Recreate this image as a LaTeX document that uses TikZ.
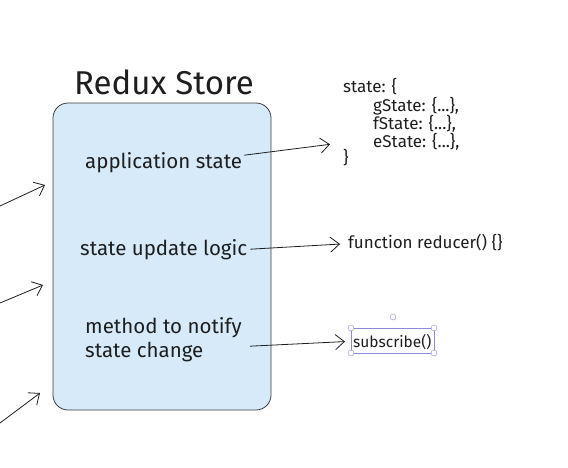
\documentclass[tikz,border=0pt]{standalone}
\usepackage{fontspec}
\setmainfont{Fira Sans}
\usepackage{tikz}
\usetikzlibrary{
  arrows.meta,
  positioning
}
\definecolor{ink}{HTML}{1E1E1E}
\definecolor{storeFill}{HTML}{D6EAFA}
\definecolor{storeLine}{HTML}{3C3C3C}
\definecolor{selection}{HTML}{8E89D8}

\begin{document}
\begin{tikzpicture}[
  x=1pt,
  y=-1pt,
  every node/.style={
    inner sep=0pt,
    text=ink,
  },
  store box/.style={
    draw=storeLine,
    thick,
    fill=storeFill,
    rounded corners=15pt,
  },
  label text/.style={
    font=\fontsize{20.5}{24}\selectfont,
    anchor=base west,
  },
  code text/.style={
    font=\fontsize{17}{18}\selectfont,
    anchor=base west,
  },
  link/.style={
    draw=ink,
    thick,
    -{Straight Barb[length=9pt,width=15pt]},
  },
  incoming/.style={
    draw=ink,
    thick,
    -{Straight Barb[length=9pt,width=15pt]},
  },
  handle/.style={
    draw=selection,
    fill=white,
    thin,
  },
]
\useasboundingbox (0,0) rectangle (568,467);
\draw[store box] (53,103) rectangle (271,410);
\node[font=\fontsize{33}{35}\selectfont,anchor=base] (title) at (164,94) {Redux Store};
\node[label text] (appState) at (85,168) {application state};
\node[label text] (updateLogic) at (80,255) {state update logic};
\node[label text,align=left,anchor=base west] (notify) at (85,357) {method to notify\\state change};
\node[code text] (stateHead) at (343,92) {state: \{};
\node[code text] (gState) at (373,111) {gState: \{...\},};
\node[code text] (fState) at (373,129) {fState: \{...\},};
\node[code text] (eState) at (373,147) {eState: \{...\},};
\node[code text] (stateTail) at (343,163) {\}};
\node[code text] (reducer) at (348,248) {function reducer() \{\}};
\node[code text,font=\fontsize{15.5}{18}\selectfont] (subscribe) at (353,347) {subscribe()};
\draw[selection,thin] (351,328) rectangle (434,353);
\foreach \hx/\hy in {351/328,434/328,351/353,434/353,393/317}
  \draw[handle] (\hx,\hy) circle (3);
\draw[link] ([xshift=2pt,yshift=7pt]appState.east) -- ([xshift=-43pt,yshift=-3pt]eState.west);
\draw[link] ([xshift=3pt]updateLogic.east) -- ([xshift=-8pt,yshift=-2pt]reducer.west);
\draw[link] ([xshift=8pt,yshift=-7pt]notify.east) -- ([xshift=-8pt]subscribe.west);
\coordinate (in1) at (0,206);
\coordinate (in2) at (0,303);
\coordinate (in3) at (0,423);
\coordinate (tip1) at (45,185);
\coordinate (tip2) at (43,285);
\coordinate (tip3) at (40,393);
\draw[incoming] (in1) -- (tip1);
\draw[incoming] (in2) -- (tip2);
\draw[incoming] (in3) -- (tip3);
\end{tikzpicture}
\end{document}
